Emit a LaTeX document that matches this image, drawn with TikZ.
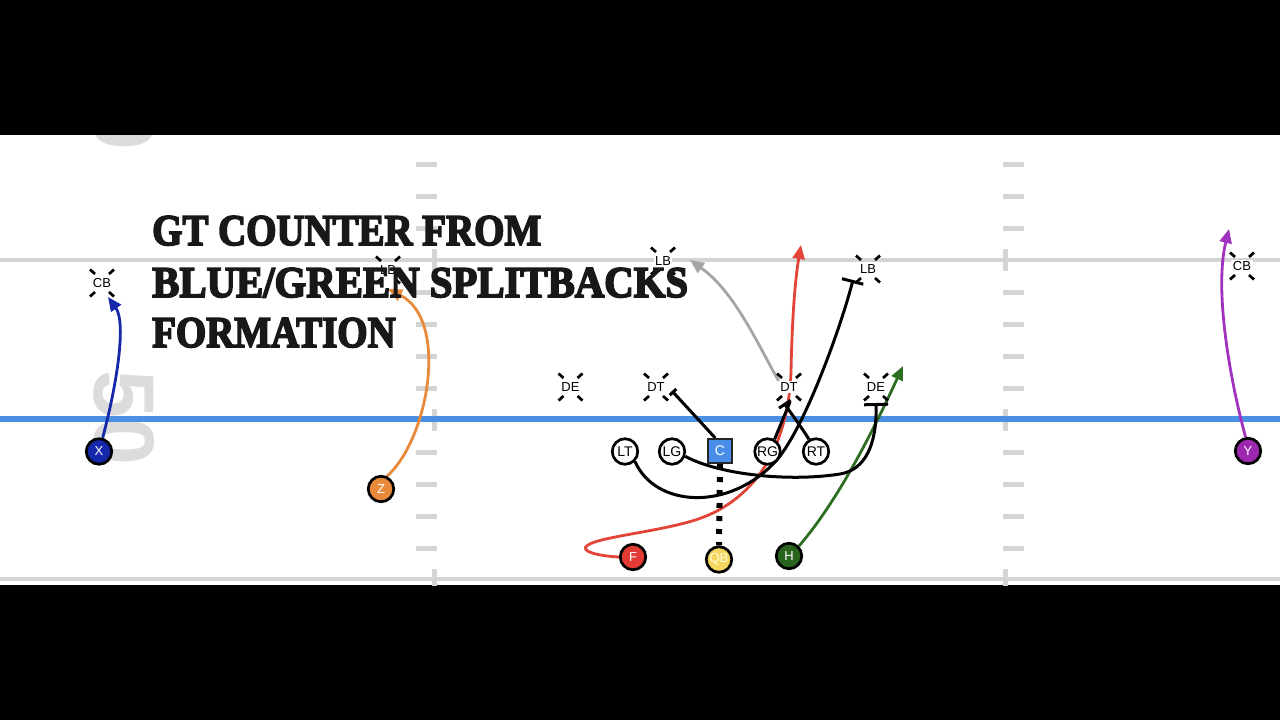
\documentclass[tikz,border=0pt]{standalone}
\usepackage{fontspec}
\setmainfont{Liberation Sans}
\newfontfamily\titlefont[BoldFeatures={FakeBold=4}]{Liberation Serif}
\usetikzlibrary{arrows.meta}
\pgfdeclarelayer{bg}
\pgfsetlayers{bg,main}
\definecolor{fieldgray}{RGB}{212,212,212}
\definecolor{numgray}{RGB}{220,220,220}
\definecolor{losblue}{RGB}{74,144,226}
\definecolor{xblue}{RGB}{22,40,170}
\definecolor{zorange}{RGB}{233,137,58}
\definecolor{cblue}{RGB}{72,142,232}
\definecolor{ypurple}{RGB}{156,40,176}
\definecolor{fred}{RGB}{226,58,52}
\definecolor{qbyellow}{RGB}{245,215,95}
\definecolor{hgreen}{RGB}{40,100,30}
\definecolor{routegray}{RGB}{165,165,165}
\definecolor{routered}{RGB}{226,68,56}
\definecolor{routegreen}{RGB}{45,110,35}
\definecolor{routepurple}{RGB}{160,50,190}
\definecolor{titleblack}{RGB}{24,24,24}
\tikzset{
  player/.style={circle,draw=black,line width=2.7pt,minimum size=25.5pt,inner sep=0pt,fill=white,font=\fontsize{14}{14}\selectfont},
  skill/.style={player,text=white,font=\fontsize{13}{13}\selectfont},
  snapbox/.style={rectangle,draw=black!85,line width=2pt,minimum size=24pt,inner sep=0pt,fill=cblue,text=white,font=\fontsize{14}{14}\selectfont},
  dlab/.style={fill=white,inner sep=1.5pt,font=\fontsize{13}{13}\selectfont},
  dtick/.style={line width=2.7pt},
  route/.style={line width=2.8pt},
  blk/.style={line width=3pt,black},
  arr/.style={-{Triangle[length=14pt,width=12pt]}},
  blockend/.style={-{Bar[width=#1]}},
  num/.style={rotate=-90,font=\bfseries\fontsize{86}{86}\selectfont,text=numgray,inner sep=0pt},
  titletext/.style={font=\titlefont\bfseries\fontsize{43.8}{43.8}\selectfont,text=titleblack,inner sep=0pt,anchor=base west},
}
\newcommand\defmark[3]{%
  \node[dlab] (#1) at (#2) {#3};
  \foreach \sx/\sy in {1/1,1/-1,-1/1,-1/-1}
    \draw[dtick,shift={(#1.center)}] (\sx*7,\sy*9) -- ++(\sx*5,\sy*4.5);
}
\begin{document}
\begin{tikzpicture}[x=1pt,y=-1pt]
\useasboundingbox (0,0) rectangle (1280,720);
\begin{pgfonlayer}{bg}
  \fill[black] (0,0) rectangle (1280,720);
  \fill[white] (0,135) rectangle (1280,585);
  \begin{scope}
    \clip (0,135) rectangle (1280,585);
    \node[num] (n50) at (124,418) {50};
    \node[num] (n0) at (124,126) {0};
    \foreach \y in {164,196,228,292,324,356,388,452,484,516,548} {
      \fill[fieldgray] (416,\y-2.5) rectangle (437,\y+2.5);
      \fill[fieldgray] (1003,\y-2.5) rectangle (1024,\y+2.5);
    }
    \foreach \y in {260,420,580} {
      \fill[fieldgray] (432,\y-11) rectangle (437,\y+11);
      \fill[fieldgray] (1003,\y-11) rectangle (1008,\y+11);
    }
    \draw[fieldgray,line width=4.5pt] (0,260) -- (1280,260);
    \draw[fieldgray,line width=4pt] (0,579) -- (1280,579);
    \draw[losblue,line width=6pt] (0,419) -- (1280,419);
  \end{scope}
\end{pgfonlayer}

% defense
\defmark{cbl}{102,283}{CB}
\defmark{lb1}{388,270}{LB}
\defmark{de1}{570.5,387}{DE}
\defmark{dt1}{656,387}{DT}
\defmark{lb2}{663,261}{LB}
\defmark{dt2}{789,387}{DT}
\defmark{lb3}{868,269}{LB}
\defmark{de2}{876,387}{DE}
\defmark{cbr}{1242,266}{CB}

% offense
\node[skill,fill=xblue] (X) at (99,451.5) {X};
\node[skill,fill=zorange] (Z) at (381,489) {Z};
\node[player] (LT) at (625,451.5) {LT};
\node[player] (LG) at (672,451.5) {LG};
\node[snapbox] (C) at (720,451) {C};
\node[player] (RG) at (767.5,451.5) {RG};
\node[player] (RT) at (816,451.5) {RT};
\node[skill,fill=ypurple] (Y) at (1248,451) {Y};
\node[skill,fill=fred] (F) at (633,557) {F};
\node[skill,fill=qbyellow,text=white!88!yellow] (QB) at (719,559.5) {QB};
\node[skill,fill=hgreen] (H) at (789,556) {H};

% route end points
\coordinate (xend) at (108,297);
\coordinate (zend) at (388,289);
\coordinate (yend) at (1229,229);
\coordinate (grayend) at (690,260);
\coordinate (redend) at (801,245);
\coordinate (greenend) at (903,366);
\coordinate (dt1blk) at (672,391);
\coordinate (lb3blk) at (853,280);
\coordinate (de2blk) at (876,403);
\coordinate (dt2a) at (790,402);
\coordinate (dt2b) at (784,403);

\begin{pgfonlayer}{bg}
  \draw[route,xblue,arr] (X.75) .. controls (118,380) and (126,322) .. (xend);
  \draw[route,zorange,arr] (Z.65) .. controls (428,440) and (450,320) .. (zend);
  \draw[route,routepurple,arr] (Y.100) .. controls (1230,380) and (1214,290) .. (yend);
  \draw[route,routegray,arr] (dt2.north west) .. controls (758,345) and (735,292) .. (grayend);
  \draw[route,routered,arr] (F.west) .. controls (598,556) and (578,551) .. (588,545)
       .. controls (600,537) and (655,532) .. (692,521)
       .. controls (740,507) and (766,472) .. (778,440)
       .. controls (786,418) and (790,398) .. (791,372)
       .. controls (792,320) and (795,280) .. (redend);
  \draw[route,routegreen,arr] (H.north east) .. controls (830,510) and (862,455) .. (greenend);
  \draw[blk,blockend=9pt] (C.110) -- (dt1blk);
  \draw[blk,blockend=22pt] (LT.south east) .. controls (655,507) and (728,512) .. (775,462)
       .. controls (803,432) and (840,330) .. (lb3blk);
  \draw[blk,blockend=24pt] (LG.-20) .. controls (720,475) and (790,482) .. (840,474)
       .. controls (865,470) and (877,445) .. (de2blk);
  \draw[blk] (RG.60) -- (dt2a);
  \draw[blk,blockend=14pt] (RT.120) .. controls (800,425) and (790,412) .. (dt2b);
  \draw[black,line width=6pt,dash pattern=on 5pt off 8pt] (C.south) -- (QB.north);
\end{pgfonlayer}

% title
\node[titletext] (t1) at (152,245) {\scalebox{0.888}[1]{GT COUNTER FROM}};
\node[titletext] (t2) at (152,297) {\scalebox{0.931}[1]{BLUE/GREEN SPLITBACKS}};
\node[titletext] (t3) at (152,347) {\scalebox{0.888}[1]{FORMATION}};
\end{tikzpicture}
\end{document}
